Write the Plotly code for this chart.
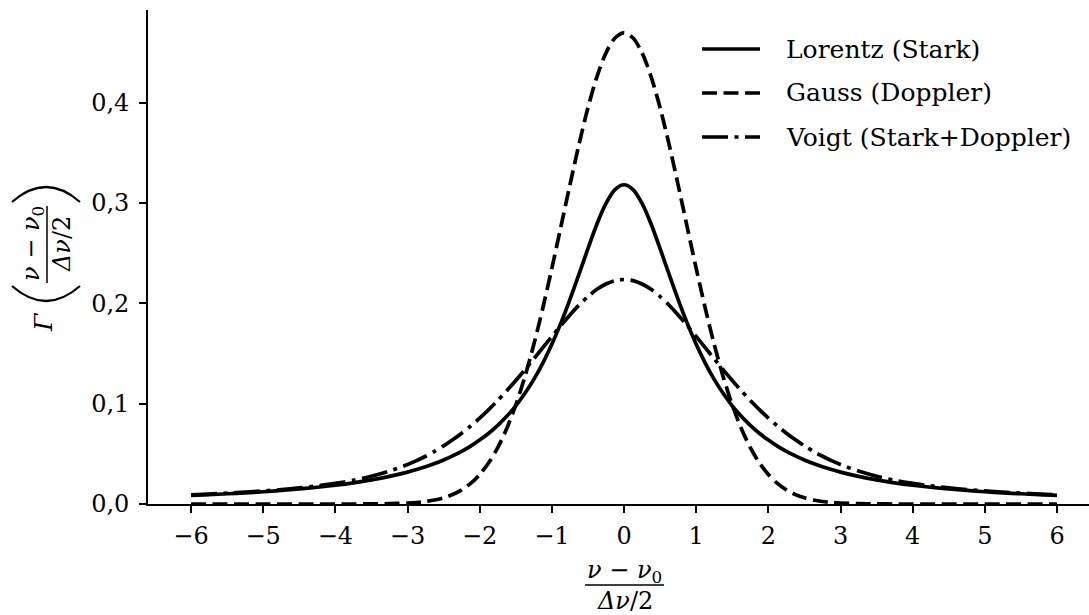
import plotly.graph_objects as go

# ---- data ----
x_vals = [-6, -5.75, -5.5, -5.25, -5, -4.75, -4.5, -4.25, -4, -3.75, -3.5, -3.25, -3,
          -2.875, -2.75, -2.625, -2.5, -2.375, -2.25, -2.125, -2, -1.875, -1.75, -1.625,
          -1.5, -1.375, -1.25, -1.125, -1, -0.875, -0.75, -0.625, -0.5, -0.375, -0.25,
          -0.125, 0, 0.125, 0.25, 0.375, 0.5, 0.625, 0.75, 0.875, 1, 1.125, 1.25, 1.375,
          1.5, 1.625, 1.75, 1.875, 2, 2.125, 2.25, 2.375, 2.5, 2.625, 2.75, 2.875, 3,
          3.25, 3.5, 3.75, 4, 4.25, 4.5, 4.75, 5, 5.25, 5.5, 5.75, 6]

lorentz = [0.0086, 0.0093, 0.0102, 0.0111, 0.0122, 0.0135, 0.0150, 0.0167, 0.0187, 0.0211,
           0.0240, 0.0275, 0.0318, 0.0344, 0.0372, 0.0403, 0.0439, 0.0479, 0.0525, 0.0577,
           0.0637, 0.0705, 0.0784, 0.0874, 0.0979, 0.1101, 0.1242, 0.1405, 0.1592, 0.1803,
           0.2037, 0.2289, 0.2546, 0.2791, 0.2996, 0.3134, 0.3183, 0.3134, 0.2996, 0.2791,
           0.2546, 0.2289, 0.2037, 0.1803, 0.1592, 0.1405, 0.1242, 0.1101, 0.0979, 0.0874,
           0.0784, 0.0705, 0.0637, 0.0577, 0.0525, 0.0479, 0.0439, 0.0403, 0.0372, 0.0344,
           0.0318, 0.0275, 0.0240, 0.0211, 0.0187, 0.0167, 0.0150, 0.0135, 0.0122, 0.0111,
           0.0102, 0.0093, 0.0086]

gauss = [0.0, 0.0, 0.0, 0.0, 0.0, 0.0, 0.0, 0.0, 0.0, 0.0, 0.0001, 0.0003, 0.0009,
         0.0015, 0.0025, 0.0040, 0.0062, 0.0094, 0.0141, 0.0205, 0.0294, 0.0411, 0.0562,
         0.0753, 0.0987, 0.1267, 0.1590, 0.1954, 0.2349, 0.2763, 0.3180, 0.3583, 0.3950,
         0.4261, 0.4498, 0.4646, 0.4697, 0.4646, 0.4498, 0.4261, 0.3950, 0.3583, 0.3180,
         0.2763, 0.2349, 0.1954, 0.1590, 0.1267, 0.0987, 0.0753, 0.0562, 0.0411, 0.0294,
         0.0205, 0.0141, 0.0094, 0.0062, 0.0040, 0.0025, 0.0015, 0.0009, 0.0003, 0.0001,
         0.0, 0.0, 0.0, 0.0, 0.0, 0.0, 0.0, 0.0, 0.0, 0.0]

voigt = [0.0092, 0.0099, 0.0108, 0.0118, 0.0130, 0.0143, 0.0160, 0.0180, 0.0205, 0.0236,
         0.0276, 0.0328, 0.0393, 0.0432, 0.0476, 0.0525, 0.0579, 0.0640, 0.0706, 0.0778,
         0.0857, 0.0941, 0.1032, 0.1129, 0.1231, 0.1337, 0.1447, 0.1559, 0.1670, 0.1780,
         0.1885, 0.1982, 0.2068, 0.2140, 0.2193, 0.2227, 0.2238, 0.2227, 0.2193, 0.2140,
         0.2068, 0.1982, 0.1885, 0.1780, 0.1670, 0.1559, 0.1447, 0.1337, 0.1231, 0.1129,
         0.1032, 0.0941, 0.0857, 0.0778, 0.0706, 0.0640, 0.0579, 0.0525, 0.0476, 0.0432,
         0.0393, 0.0328, 0.0276, 0.0236, 0.0205, 0.0180, 0.0160, 0.0143, 0.0130, 0.0118,
         0.0108, 0.0099, 0.0092]

series_names = ["Lorentz (Stark)", "Gauss (Doppler)", "Voigt (Stark+Doppler)"]

x_tickvals = [-6, -5, -4, -3, -2, -1, 0, 1, 2, 3, 4, 5, 6]
x_ticktext = ["−6", "−5", "−4", "−3", "−2", "−1", "0", "1", "2", "3", "4", "5", "6"]
y_tickvals = [0.0, 0.1, 0.2, 0.3, 0.4]
y_ticktext = ["0,0", "0,1", "0,2", "0,3", "0,4"]

# ---- styling ----
W, H = 1089, 615
ML, MR, MT, MB = 148, 0, 10, 111
FONT = "DejaVu Serif"
LW = 3.7
DASHES = ["solid", "15px,6.5px", "26px,6.5px,4px,6.5px"]

def px_x(px):
    return (px - ML) / (W - ML - MR)

def px_y(py):
    return (H - MB - py) / (H - MT - MB)

fig = go.Figure()
for name, ys, dash in zip(series_names, [lorentz, gauss, voigt], DASHES):
    fig.add_trace(go.Scatter(
        x=x_vals, y=ys, mode="lines", name=name, showlegend=False,
        line=dict(color="black", width=LW, dash=dash, shape="spline", smoothing=0.8),
    ))

shapes = []
annotations = []

# manual legend
leg_rows = [49, 93, 137]
for name, dash, ry in zip(series_names, DASHES, leg_rows):
    shapes.append(dict(type="line", xref="paper", yref="paper",
                       x0=px_x(702), x1=px_x(760), y0=px_y(ry), y1=px_y(ry),
                       line=dict(color="black", width=LW, dash=dash)))
    annotations.append(dict(text=name, xref="paper", yref="paper",
                            x=px_x(784), y=px_y(ry), xanchor="left", yanchor="middle",
                            showarrow=False, font=dict(family=FONT, size=25, color="black")))

# x-axis label: (nu - nu0) / (Delta nu / 2)
annotations.append(dict(text="<i>ν</i> − <i>ν</i><sub>0</sub>", xref="paper", yref="paper",
                        x=px_x(624.5), y=px_y(571), xanchor="center", yanchor="middle",
                        showarrow=False, font=dict(family=FONT, size=24, color="black")))
shapes.append(dict(type="line", xref="paper", yref="paper",
                   x0=px_x(585), x1=px_x(664), y0=px_y(585), y1=px_y(585),
                   line=dict(color="black", width=1.5)))
annotations.append(dict(text="<i>Δν</i>/2", xref="paper", yref="paper",
                        x=px_x(624.5), y=px_y(601), xanchor="center", yanchor="middle",
                        showarrow=False, font=dict(family=FONT, size=24, color="black")))

# y-axis label: Gamma( (nu - nu0)/(Delta nu/2) ), rotated
annotations.append(dict(text="<i>Γ</i>", xref="paper", yref="paper", textangle=-90,
                        x=px_x(43), y=px_y(322), xanchor="center", yanchor="middle",
                        showarrow=False, font=dict(family=FONT, size=25, color="black")))
annotations.append(dict(text="<i>ν</i> − <i>ν</i><sub>0</sub>", xref="paper", yref="paper",
                        textangle=-90, x=px_x(32), y=px_y(244), xanchor="center",
                        yanchor="middle", showarrow=False,
                        font=dict(family=FONT, size=24, color="black")))
annotations.append(dict(text="<i>Δν</i>/2", xref="paper", yref="paper", textangle=-90,
                        x=px_x(62), y=px_y(244), xanchor="center", yanchor="middle",
                        showarrow=False, font=dict(family=FONT, size=24, color="black")))
shapes.append(dict(type="line", xref="paper", yref="paper",
                   x0=px_x(47), x1=px_x(47), y0=px_y(206), y1=px_y(283),
                   line=dict(color="black", width=1.5)))

def qpath(p0, c, p1):
    return "M{},{} Q{},{} {},{}".format(px_x(p0[0]), px_y(p0[1]), px_x(c[0]), px_y(c[1]),
                                        px_x(p1[0]), px_y(p1[1]))

# big parentheses (rotated)
shapes.append(dict(type="path", xref="paper", yref="paper",
                   path=qpath((12, 286), (46, 316), (80, 286)),
                   line=dict(color="black", width=2.2)))
shapes.append(dict(type="path", xref="paper", yref="paper",
                   path=qpath((12, 202), (46, 172), (80, 202)),
                   line=dict(color="black", width=2.2)))

fig.update_layout(
    width=W, height=H,
    margin=dict(l=ML, r=MR, t=MT, b=MB, pad=0),
    paper_bgcolor="white", plot_bgcolor="white",
    font=dict(family=FONT, size=24, color="black"),
    shapes=shapes, annotations=annotations,
    showlegend=False,
)
fig.update_xaxes(range=[-6.596, 6.443], tickvals=x_tickvals, ticktext=x_ticktext,
                 showgrid=False, zeroline=False, showline=True, linecolor="black",
                 linewidth=1.6, ticks="outside", ticklen=7, tickwidth=1.6,
                 tickcolor="black", tickfont=dict(family=FONT, size=24),
                 ticklabelstandoff=2)
fig.update_yaxes(range=[0, 0.4925], tickvals=y_tickvals, ticktext=y_ticktext,
                 showgrid=False, zeroline=False, showline=True, linecolor="black",
                 linewidth=1.6, ticks="outside", ticklen=7, tickwidth=1.6,
                 tickcolor="black", tickfont=dict(family=FONT, size=24),
                 ticklabelstandoff=5)

fig.write_html("out.html", config={"displayModeBar": False},
               post_script="document.body.style.margin='0px';document.body.style.overflow='hidden';")
